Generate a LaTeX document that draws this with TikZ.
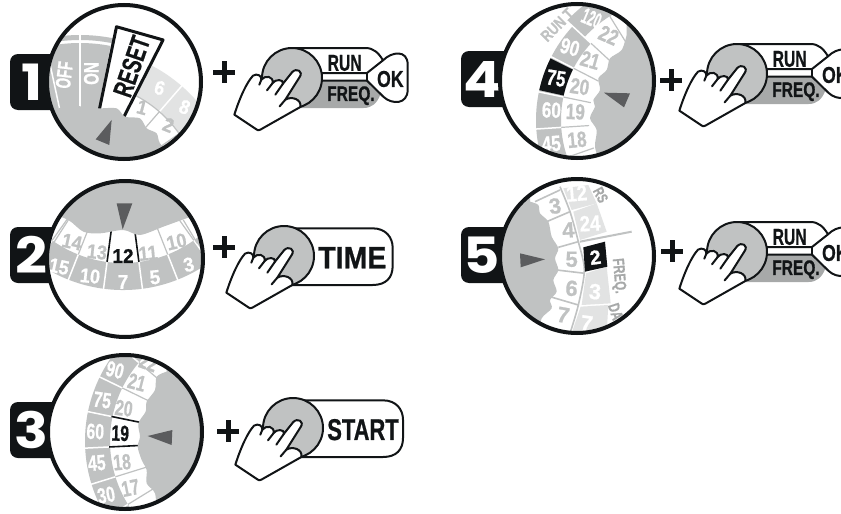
\documentclass[tikz,border=0pt]{standalone}
\usepackage{graphicx}
\usepackage{fontspec}
\setmainfont{Liberation Sans}[BoldFeatures={FakeBold=0.8}]
\newfontfamily\badgefont{Poppins}
\definecolor{ink}{HTML}{111416}
\definecolor{dial}{HTML}{C0C2C2}
\definecolor{pale}{HTML}{E2E3E3}
\definecolor{freq}{HTML}{A7A9A9}
\definecolor{tip}{HTML}{5B5C5E}
\tikzset{
  lens/.style={draw=ink,line width=4pt},
  hardline/.style={draw=ink,line width=2pt,line join=round,line cap=round},
  whitesep/.style={draw=white,line width=1.5pt},
  graysep/.style={draw=dial,line width=1.2pt},
  blacksep/.style={draw=ink,line width=1.6pt},
  pointer/.style={fill=tip},
  wave/.style={fill=dial},
  bolt/.style={draw=ink,line width=5pt},
}
% sector: fill colour, r1, r2, a1, a2
\newcommand\sect[5]{\fill[#1] (#4:#2) arc[start angle=#4,end angle=#5,radius=#2] -- (#5:#3) arc[start angle=#5,end angle=#4,radius=#3] -- cycle;}
% dial number: angle, radius, base angle, colour, size, xscale, text
\newcommand\dnum[7]{\node[inner sep=0pt,text=#4,rotate={0.45*(#3-(#1))}] at (#1:#2) {\fontsize{#5}{#5}\selectfont\bfseries\scalebox{#6}[1]{#7}};}
% free label in current coordinates: x, y, rotation, colour, size, xscale, text
\newcommand\lbl[7]{\node[inner sep=0pt,text=#4,rotate=#3] at (#1,#2) {\fontsize{#5}{#5}\selectfont\bfseries\scalebox{#6}[1]{#7}};}
\newcommand\badge[4]{% y1 y2 digit-x digit
  \fill[ink,rounded corners=8pt] (10,#1) rectangle (90,#2);
  \node[inner sep=0pt,text=white] at (#3,{(#1+#2)/2}) {\fontsize{50}{50}\badgefont\bfseries\scalebox{1.12}[1]{#4}};}
\newcommand\plusmark[2]{\draw[bolt] (#1-11,#2) -- (#1+11,#2); \draw[bolt] (#1,#2-11) -- (#1,#2+11);}
\newcommand\handshape{%
  \draw[hardline,fill=white] (72,285) .. controls (88,235) and (108,190) .. (128,168)
    .. controls (140,160) and (155,168) .. (153,180)
    .. controls (165,165) and (190,170) .. (187,190)
    .. controls (195,178) and (220,178) .. (218,192)
    -- (245,158) .. controls (258,143) and (280,155) .. (268,172)
    -- (225,240) .. controls (245,228) and (275,240) .. (270,262)
    -- (150,330) .. controls (145,333) and (142,332) .. (138,329) -- cycle;
  \draw[hardline] (153,180) -- (147,195);
  \draw[hardline] (187,190) -- (170,212);
  \draw[hardline] (218,192) -- (195,225);
  \draw[hardline] (225,240) -- (208,260);
}
\newcommand\knob{\draw[hardline,fill=dial] (245,175) circle (90);}
% RUN / FREQ / OK control at knob centre x,y
\newcommand\runctl[2]{%
  \begin{scope}[shift={(#1,#2)},scale=0.33333,shift={(-245,-175)}]
    \fill[freq] (300,183) -- (470,183) -- (510,225) .. controls (500,250) and (485,265) .. (460,265) -- (270,265) -- cycle;
    \draw[hardline] (245,85) -- (465,85) .. controls (490,85) and (505,100) .. (518,122) -- (470,160) -- (300,160);
    \draw[hardline] (300,183) -- (470,183) -- (520,232) .. controls (545,255) and (592,255) .. (592,210) -- (592,135) .. controls (592,90) and (545,95) .. (518,122);
    \draw[hardline] (470,160) -- (470,183);
    \knob
    \lbl{403}{130}{0}{ink}{23}{0.68}{RUN}
    \lbl{422}{228}{0}{ink}{21}{0.74}{FREQ.}
    \lbl{540}{178}{0}{ink}{23}{0.77}{OK}
    \handshape
  \end{scope}}
% pill control: x, y, right, textx, text, xscale, size
\newcommand\pillctl[7]{%
  \begin{scope}[shift={(#1,#2)},scale=0.33333,shift={(-245,-175)}]
    \draw[hardline,fill=white] (245,92) -- (#3-60,92) .. controls (#3-20,92) and (#3,120) .. (#3,150) -- (#3,205) .. controls (#3,240) and (#3-20,262) .. (#3-60,262) -- (245,262) -- cycle;
    \knob
    \lbl{#4}{180}{0}{ink}{#7}{#6}{#5}
    \handshape
  \end{scope}}
\begin{document}
\begin{tikzpicture}[x=1pt,y=-1pt]
\useasboundingbox (0,0) rectangle (841,514);
\clip (0,0) rectangle (841,514);

% ---------- step 1
\badge{54}{110}{32}{1}
\fill[white] (124,82) circle (77);
\begin{scope}
  \clip (124,82) circle (77);
  \begin{scope}[shift={(80,203)}]
    \sect{dial}{90}{160}{235}{281}
    \sect{dial}{163}{168}{235}{285}
    \draw[whitesep] (257.8:90) -- (257.8:170);
    \draw[whitesep] (270:90) -- (270:170);
    \sect{pale}{121}{155}{297}{340}
    \draw[whitesep] (311:121) -- (311:156);
    \draw[whitesep] (325:121) -- (325:156);
    \draw[graysep] (311:85) -- (311:121);
    \draw[graysep] (325:85) -- (325:121);
    \draw[graysep] (297:121) arc[start angle=297,end angle=340,radius=121];
    \dnum{304.7}{140}{270}{white}{20}{0.9}{6}
    \dnum{317.5}{142}{270}{white}{20}{0.9}{8}
    \dnum{303}{114}{270}{dial}{20}{0.9}{1}
    \dnum{318.6}{118}{270}{dial}{20}{0.9}{2}
    \node[inner sep=0pt,text=white,rotate=83] at (263:129) {\fontsize{21}{21}\selectfont\bfseries\scalebox{0.64}[1]{OFF}};
    \node[inner sep=0pt,text=white,rotate=90] at (275:130) {\fontsize{21}{21}\selectfont\bfseries\scalebox{0.72}[1]{ON}};
    \draw[hardline,line width=3pt,fill=white] (281.7:95) -- (281.7:180) -- (297:183) -- (297:95) -- cycle;
    \node[inner sep=0pt,text=ink,rotate=71] at (290.7:146) {\fontsize{27}{27}\selectfont\bfseries\scalebox{0.69}[1]{RESET}};
  \end{scope}
  \begin{scope}[scale=0.33333]
    \fill[wave] plot[smooth] coordinates {(150,335) (210,315) (255,322) (300,325) (350,325) (375,350) (420,355) (440,385) (470,400) (480,430) (520,470)} -- (520,520) -- (130,520) -- cycle;
    \fill[pointer] (335,360) -- (287,418) -- (328,435) -- cycle;
  \end{scope}
\end{scope}
\draw[lens] (124,82) circle (77);
\plusmark{224}{72}
\runctl{292}{78}

% ---------- step 2
\badge{227}{283}{31}{2}
\fill[white] (125,259) circle (78);
\begin{scope}
  \clip (125,259) circle (78);
  \begin{scope}[shift={(123,141)}]
    \sect{dial}{122}{149}{30}{150}
    \foreach \a in {82.5,97.5,68.5,111.5,54.5,125.5} {\draw[whitesep] (\a:121) -- (\a:150);}
    \foreach \a in {68.5,111.5,54.5,125.5} {\draw[graysep] (\a:85) -- (\a:122);}
    \dnum{90}{115}{90}{ink}{20}{0.95}{12}
    \dnum{103.2}{114}{90}{dial}{20}{0.9}{13}
    \dnum{116.8}{113}{90}{dial}{20}{0.9}{14}
    \dnum{77.4}{115}{90}{dial}{20}{0.9}{11}
    \dnum{62}{114}{90}{dial}{20}{0.9}{10}
    \dnum{90}{141}{90}{white}{20}{0.95}{7}
    \dnum{103.7}{139}{90}{white}{20}{0.9}{10}
    \dnum{117}{141}{90}{white}{20}{0.9}{15}
    \dnum{76.8}{140}{90}{white}{20}{0.95}{5}
    \dnum{62}{140}{90}{white}{20}{0.95}{3}
    \draw[blacksep] (82.5:90) -- (82.5:122);
    \draw[blacksep] (97.5:90) -- (97.5:122);
  \end{scope}
  \begin{scope}[shift={(0,170)},scale=0.33333]
    \fill[wave] plot[smooth] coordinates {(140,125) (205,150) (250,185) (300,190) (370,180) (420,195) (490,170) (545,150) (615,125)} -- (615,20) -- (140,20) -- cycle;
    \draw[graysep] (205,150) -- (155,228);
    \draw[graysep] (550,150) -- (592,220);
    \fill[pointer] (350,100) -- (397,100) -- (368,178) -- cycle;
  \end{scope}
\end{scope}
\draw[lens] (125,259) circle (78);
\plusmark{224}{247}
\pillctl{284}{256}{571}{450}{TIME}{0.92}{31}

% ---------- step 3
\badge{402}{458}{31}{3}
\fill[white] (125,432) circle (77);
\begin{scope}
  \clip (125,432) circle (77);
  \begin{scope}[shift={(231,441)}]
    \sect{dial}{121}{146}{135}{235}
    \foreach \a in {148.4,162.8,177.2,191.6,206,220.4} {\draw[whitesep] (\a:120) -- (\a:147);}
    \foreach \a in {148.4,162.8,206,220.4} {\draw[graysep] (\a:85) -- (\a:121);}
    \dnum{184}{111}{180}{ink}{22}{0.72}{19}
    \dnum{197}{112}{180}{dial}{22}{0.72}{20}
    \dnum{212}{111}{180}{dial}{22}{0.72}{21}
    \dnum{223.6}{114}{180}{dial}{22}{0.72}{22}
    \dnum{169}{111}{180}{dial}{22}{0.72}{18}
    \dnum{155}{111}{180}{dial}{22}{0.72}{17}
    \dnum{184}{136}{180}{white}{22}{0.72}{60}
    \dnum{197.6}{135}{180}{white}{22}{0.72}{75}
    \dnum{211.5}{136}{180}{white}{22}{0.72}{90}
    \dnum{170.7}{136}{180}{white}{22}{0.72}{45}
    \dnum{156.6}{136}{180}{white}{22}{0.72}{30}
    \draw[blacksep] (191.6:90) -- (191.6:122);
    \draw[blacksep] (177.2:90) -- (177.2:122);
  \end{scope}
  \begin{scope}[shift={(0,340)},scale=0.33333]
    \fill[wave] plot[smooth] coordinates {(500,95) (470,110) (465,150) (440,185) (437,215) (415,250) (420,290) (413,320) (425,360) (440,390) (440,430) (465,460) (470,520)} -- (620,520) -- (620,30) -- (500,30) -- cycle;
    \fill[pointer] (443,288) -- (517,270) -- (515,315) -- cycle;
  \end{scope}
\end{scope}
\draw[lens] (125,432) circle (77);
\plusmark{228}{431}
\pillctl{293}{428}{575}{455}{START}{0.73}{30}

% ---------- step 4
\begin{scope}[shift={(451,-3)}]\badge{54}{110}{31}{4}\end{scope}
\fill[white] (577,81) circle (77);
\begin{scope}
  \clip (577,81) circle (77);
  \begin{scope}[shift={(674,120)}]
    \sect{dial}{113}{138}{145}{222.75}
    \sect{dial}{122}{146}{222.75}{240}
    \foreach \a in {160.75,176.25,191.75,207.25,222.75} {\draw[whitesep] (\a:112) -- (\a:147);}
    \foreach \a in {160.75,176.25,191.75,207.25,222.75} {\draw[graysep] (\a:85) -- (\a:113);}
    \draw[graysep] (238.25:85) -- (238.25:122);
    \sect{ink}{113}{138}{192.5}{206.5}
    \dnum{199.5}{100}{180}{dial}{22}{0.78}{20}
    \dnum{184.8}{99}{180}{dial}{22}{0.78}{19}
    \dnum{168.5}{99}{180}{dial}{22}{0.78}{18}
    \dnum{215.6}{103}{180}{dial}{22}{0.78}{21}
    \dnum{232.4}{107}{180}{dial}{22}{0.78}{22}
    \dnum{199.5}{125}{180}{white}{22}{0.78}{75}
    \dnum{184.6}{123}{180}{white}{22}{0.78}{60}
    \dnum{169}{125}{180}{white}{22}{0.78}{45}
    \dnum{215}{127}{180}{white}{22}{0.78}{90}
    \dnum{231}{131}{180}{white}{22}{0.52}{120}
  \end{scope}
  \begin{scope}[shift={(450,0)},scale=0.33333]
    \fill[wave] plot[smooth] coordinates {(530,105) (515,150) (480,175) (470,210) (445,235) (450,270) (430,300) (435,320) (420,355) (440,390) (435,440) (450,490)} -- (640,490) -- (640,60) -- (530,60) -- cycle;
    \fill[pointer] (462,278) -- (540,280) -- (522,322) -- cycle;
    \lbl{322}{75}{45}{dial}{16}{0.8}{RUN T}
  \end{scope}
\end{scope}
\draw[lens] (577,81) circle (77);
\plusmark{671}{80}
\runctl{737}{74}

% ---------- step 5
\begin{scope}[shift={(451,173)}]\badge{54}{110}{31}{5}\end{scope}
\fill[white] (577,256) circle (77);
\begin{scope}
  \clip (577,256) circle (77);
  \begin{scope}[shift={(450,170)},scale=0.33333]
    \fill[pale] (340,55) -- (415,45) -- (440,100) -- (365,120) -- cycle;
    \fill[pale] (370,125) -- (440,100) -- (470,185) -- (390,210) -- cycle;
    \fill[pale] (408,310) -- (470,290) -- (482,400) -- (395,405) -- cycle;
    \fill[pale] (392,410) -- (475,405) -- (470,490) -- (365,490) -- cycle;
    \draw[graysep,line width=1.6pt] plot[smooth] coordinates {(330,50) (360,125) (385,215) (403,300) (385,405) (360,490)};
    \draw[graysep,line width=1.6pt] (255,95) -- (330,60);
    \draw[graysep,line width=1.6pt] (290,155) -- (360,125);
    \draw[graysep,line width=1.6pt] (325,232) -- (385,215);
    \draw[graysep,line width=1.6pt] (320,300) -- (405,310);
    \draw[graysep,line width=1.6pt] (300,380) -- (385,405);
    \draw[dial,line width=2pt] (390,215) -- (545,185);
    \fill[wave] plot[smooth] coordinates {(240,95) (265,105) (270,130) (295,155) (305,200) (325,235) (315,265) (325,300) (310,330) (320,365) (300,390) (305,415) (275,445) (270,490)} -- (130,490) -- (130,50) -- (240,50) -- cycle;
    \fill[pointer] (210,250) -- (285,268) -- (212,292) -- cycle;
    \fill[ink] (400,232) -- (465,215) -- (472,290) -- (405,305) -- cycle;
    \lbl{436}{262}{8}{white}{20}{1}{2}
    \lbl{315}{108}{8}{dial}{22}{1}{3}
    \lbl{355}{180}{4}{dial}{22}{1}{4}
    \lbl{365}{268}{0}{dial}{22}{1}{5}
    \lbl{365}{355}{-5}{dial}{22}{1}{6}
    \lbl{340}{435}{-10}{dial}{22}{1}{7}
    \lbl{380}{70}{5}{white}{22}{0.85}{12}
    \lbl{420}{160}{3}{white}{22}{0.85}{24}
    \lbl{435}{365}{-4}{white}{22}{1}{3}
    \lbl{410}{460}{-8}{white}{22}{1}{7}
    \lbl{505}{318}{-85}{freq}{16}{0.72}{FREQ.}
    \lbl{497}{425}{-72}{freq}{16}{0.72}{DA}
    \lbl{452}{75}{-62}{freq}{15}{0.72}{RS}
  \end{scope}
\end{scope}
\draw[lens] (577,256) circle (77);
\plusmark{672}{251}
\runctl{737}{252}
\end{tikzpicture}
\end{document}
